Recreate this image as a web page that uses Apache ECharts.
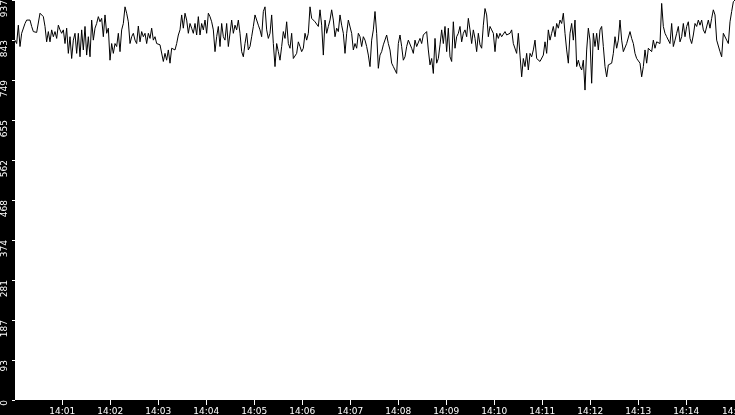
<!DOCTYPE html>
<html>
<head>
<meta charset="utf-8">
<script src="https://cdn.jsdelivr.net/npm/echarts@6/dist/echarts.min.js"></script>
<style>
html,body{margin:0;padding:0;background:#000;}
#c{width:735px;height:415px;}
</style>
</head>
<body>
<div id="c"></div>
<script>
// Time range of the x axis
var startTime = '2024-01-01T14:00:01';
var endTime = '2024-01-01T14:15:01';
// Y axis tick labels
var yTickLabels = ['0','93','187','281','374','468','562','655','749','843','937'];
var yMax = 937;
// Series values, read left to right, equally spaced in time
var seg1 = [843,835,878,828,859,863,882,890,886,890,
875,863,860,861,863,906,910,898,875,839,
863,839,867,851,863,847,878,867,859,867,
835,871,812,851,800,843,859,812,859,804,
867,820,875,808,851,804,890,843,871,882,
898,886,894,851,902,859,871,796,835,812,
835,828,859,816,867,882,921,906,886,835,
851,859,843];
var seg2 = [835,876,839,863,851,859,835,859,847,871,
843,851,835,839,832,828,793,812,796,820,
789,824,828,820,835,855,867,902,871,906,
890,859,882,871,859,882,855,898,855,882,
867,890,859,906,898,886,867,816,851,875,
828,882,851,843,882,828,832,890,859,878,
867,890,859,816,804,835,859,820,828,851,
875,902];
var seg3 = [898,878,867,851,910,921,867,847,859,902,
835,781,835,816,796,828,863,847,886,835,
824,859,800,796,812,839,828,816,824,859,
843,859,921,894,894,886,882,875,914,878,
808,890,859,875,890,914,890,851,871,863,
902,878,859,812,859,890,894,859,820,835,
824,859,851,828,851,843,828,808,781,843,
867,910];
var seg4 = [859,777,808,816,832,835,855,835,820,789,
781,773,765,835,855,828,796,804,828,843,
847,824,812,843,828,824,847,835,855,851,
863,820,785,800,765,847,789,800,832,867,
835,875,816,871,804,793,886,824,851,859,
875,839,859,867,851,894,867,835,867,847,
816,859,832,824,878,917,902,851,875,867,
859,816];
var seg5 = [859,847,859,851,855,863,855,851,859,867,
835,839,812,859,808,757,800,781,812,773,
812,804,820,843,800,796,793,789,808,839,
812,867,843,859,875,851,882,871,890,882,
906,859,820,789,859,882,843,890,781,796,
781,773,796,726,820,871,843,742,859,828,
859,820,867,875,828,781,757,785,781,789,
812,851];
var seg6 = [824,843,890,843,816,820,835,839,863,847,
835,812,800,796,789,757,781,820,789,824,
824,816,843,824,839,843,835,929,875,859,
851,855,835,882,828,843,859,875,839,851,
882,851,875,886,847,835,855,882,875,890,
878,890,867,859,863,890,871,894,914,902,
843,839,816,804,859,855,843,835,886,910,
933,937];

var values = seg1.concat(seg2, seg3, seg4, seg5, seg6);
var t0 = new Date(startTime).getTime();
var t1 = new Date(endTime).getTime();
var step = (t1 - t0) / (values.length - 1);
var data = values.map(function (v, i) { return [t0 + i * step, v]; });

function pad(n){ return (n < 10 ? '0' : '') + n; }

var chart = echarts.init(document.getElementById('c'), null, {renderer: 'canvas'});
chart.setOption({
  animation: false,
  backgroundColor: '#000',
  grid: {
    left: 15, right: 0, top: 0, bottom: 15,
    containLabel: false, outerBoundsMode: 'none',
    show: true, backgroundColor: '#fff', borderWidth: 0
  },
  xAxis: {
    type: 'time',
    min: t0, max: t1,
    minInterval: 60000, maxInterval: 60000,
    splitLine: {show: false},
    axisLine: {show: false},
    axisTick: {show: true, length: 5, lineStyle: {color: '#fff', width: 1}},
    axisLabel: {
      color: '#fff', fontFamily: 'DejaVu Sans', fontSize: 9, margin: 7,
      showMinLabel: false, showMaxLabel: true, hideOverlap: false,
      formatter: function (v) { var d = new Date(v); return pad(d.getHours()) + ':' + pad(d.getMinutes()); }
    }
  },
  yAxis: {
    type: 'value',
    min: 0, max: yMax, interval: yMax / 10,
    splitLine: {show: false},
    axisLine: {show: false},
    axisTick: {show: true, length: 3, lineStyle: {color: '#fff', width: 1}},
    axisLabel: {
      color: '#fff', fontFamily: 'DejaVu Sans', fontSize: 9,
      rotate: 90, align: 'right', verticalAlign: 'middle', margin: 10,
      showMinLabel: true, showMaxLabel: true,
      formatter: function (v) { return yTickLabels[Math.round(v / (yMax / 10))]; }
    }
  },
  series: [{
    type: 'line',
    data: data,
    showSymbol: false,
    symbol: 'none',
    lineStyle: {color: '#000', width: 1},
    clip: true
  }]
});
</script>
</body>
</html>
